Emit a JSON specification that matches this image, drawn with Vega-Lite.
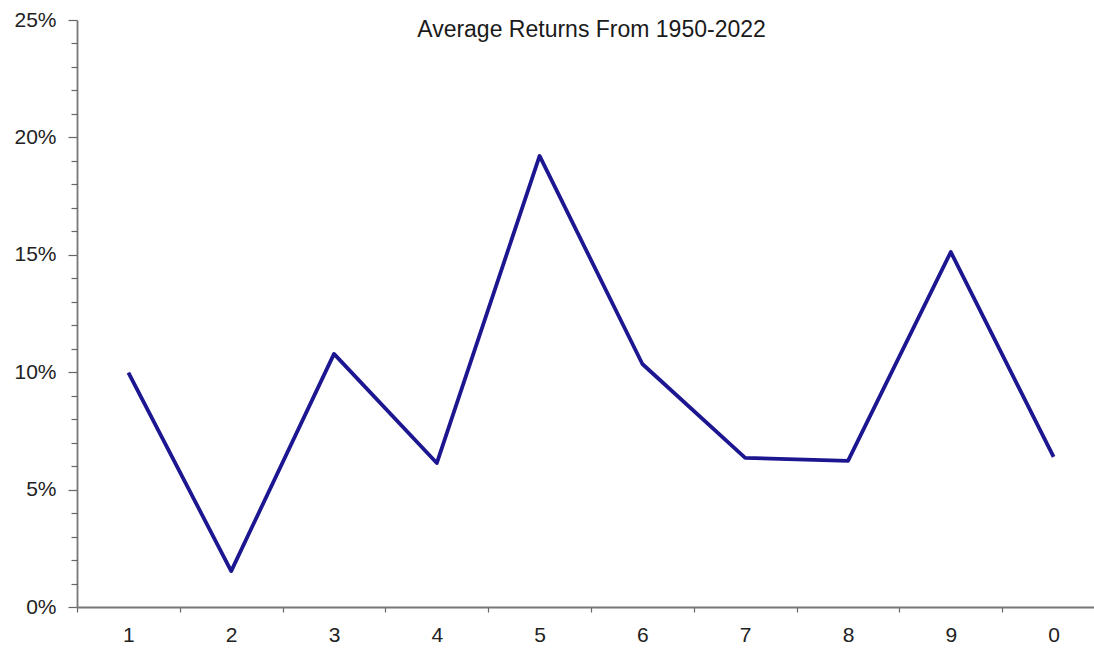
{
  "$schema": "https://vega.github.io/schema/vega-lite/v6.json",
  "autosize": {"type": "none"},
  "width": 1017,
  "height": 587,
  "padding": {"left": 77, "top": 20, "right": 0, "bottom": 42},
  "background": "white",
  "title": {
    "text": "Average Returns From 1950-2022",
    "font": "Liberation Sans",
    "fontSize": 23,
    "fontWeight": "normal",
    "color": "#1a1a1a",
    "anchor": "middle",
    "frame": "group",
    "baseline": "top",
    "offset": -33,
    "dx": 6
  },
  "data": {
    "values": [
      {"digit": "1", "ret": 0.0998},
      {"digit": "2", "ret": 0.0153},
      {"digit": "3", "ret": 0.1078},
      {"digit": "4", "ret": 0.0613},
      {"digit": "5", "ret": 0.1921},
      {"digit": "6", "ret": 0.1035},
      {"digit": "7", "ret": 0.0635},
      {"digit": "8", "ret": 0.0622},
      {"digit": "9", "ret": 0.1512},
      {"digit": "0", "ret": 0.0639}
    ]
  },
  "config": {
    "view": {"stroke": null},
    "axis": {
      "labelFont": "Liberation Sans",
      "labelFontSize": 21,
      "labelColor": "#222222",
      "domainColor": "#777777",
      "tickColor": "#666666",
      "domainWidth": 1.8,
      "tickWidth": 1.2,
      "grid": false,
      "title": null
    }
  },
  "layer": [
    {
      "mark": {"type": "line", "color": "#1c1690", "strokeWidth": 3.8, "strokeJoin": "round"},
      "encoding": {
        "x": {
          "field": "digit",
          "type": "ordinal",
          "sort": ["1", "2", "3", "4", "5", "6", "7", "8", "9", "0"],
          "scale": {"type": "band", "range": [0, 1028], "paddingInner": 0, "paddingOuter": 0},
          "axis": {
            "labelAngle": 0,
            "tickBand": "extent",
            "tickSize": 5,
            "labelPadding": 12,
            "labelBaseline": "top"
          }
        },
        "y": {
          "field": "ret",
          "type": "quantitative",
          "scale": {"domain": [0, 0.25], "nice": false, "zero": true},
          "axis": {
            "orient": "left",
            "values": [0, 0.05, 0.1, 0.15, 0.2, 0.25],
            "format": ".0%",
            "tickSize": 9,
            "labelPadding": 12
          }
        }
      }
    },
    {
      "mark": {"type": "point", "opacity": 0},
      "encoding": {
        "x": {
          "field": "digit",
          "type": "ordinal",
          "sort": ["1", "2", "3", "4", "5", "6", "7", "8", "9", "0"]
        },
        "y": {
          "field": "ret",
          "type": "quantitative",
          "axis": {
            "orient": "left",
            "values": [0.01, 0.02, 0.03, 0.04, 0.06, 0.07, 0.08, 0.09, 0.11, 0.12, 0.13, 0.14, 0.16, 0.17, 0.18, 0.19, 0.21, 0.22, 0.23, 0.24],
            "labels": false,
            "domain": false,
            "tickSize": 6
          }
        }
      }
    }
  ],
  "resolve": {"axis": {"y": "independent"}}
}
